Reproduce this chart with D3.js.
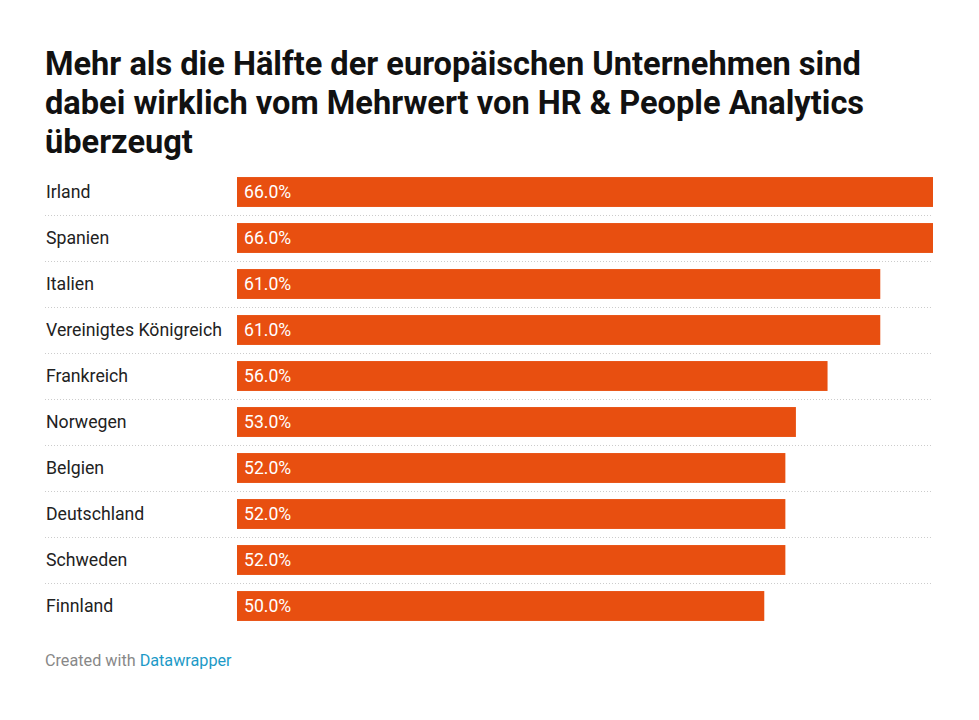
<!DOCTYPE html>
<html><head><meta charset="utf-8">
<script src="https://cdn.jsdelivr.net/npm/d3@7"></script>
<style>body{margin:0;background:#fff;font-family:Roboto,sans-serif}</style>
</head><body><svg id="c" width="979" height="720"></svg>
<script>
const countries = ["Irland","Spanien","Italien","Vereinigtes Königreich","Frankreich","Norwegen","Belgien","Deutschland","Schweden","Finnland"];
const values = [66,66,61,61,56,53,52,52,52,50];
const titleLines = ["Mehr als die Hälfte der europäischen Unternehmen sind","dabei wirklich vom Mehrwert von HR & People Analytics","überzeugt"];

const svg = d3.select("#c");
svg.append("rect").attr("width",979).attr("height",720).attr("fill","#fff");
svg.append("g").selectAll("text").data(titleLines).join("text")
  .attr("x",45).attr("y",(d,i)=>75+i*39)
  .attr("font-size",32.6).attr("font-weight",700).attr("fill","#111")
  .attr("font-family","Roboto").text(d=>d);

const x = d3.scaleLinear().domain([0,66]).range([237,933]);
const y = d3.scaleBand().domain(countries).range([169,629]).paddingInner(0.35).paddingOuter(0.175);
const g = svg.append("g");
g.selectAll("line.sep").data(countries.slice(0,-1)).join("line")
  .attr("x1",45).attr("x2",933)
  .attr("y1",d=>y(d)+y.bandwidth()+y.step()*y.paddingInner()/2+0.5)
  .attr("y2",d=>y(d)+y.bandwidth()+y.step()*y.paddingInner()/2+0.5)
  .attr("stroke","#ccc").attr("stroke-width",1).attr("stroke-dasharray","1,2");
g.selectAll("rect.bar").data(countries).join("rect")
  .attr("x",x(0)).attr("y",d=>y(d)).attr("height",y.bandwidth())
  .attr("width",(d,i)=>x(values[i])-x(0)).attr("fill","#e84f10");
g.selectAll("text.lab").data(countries).join("text")
  .attr("x",46).attr("y",d=>y(d)+y.bandwidth()/2).attr("dy","0.35em")
  .attr("font-size",17.7).attr("fill","#222").text(d=>d);
g.selectAll("text.val").data(countries).join("text")
  .attr("x",x(0)+7).attr("y",d=>y(d)+y.bandwidth()/2).attr("dy","0.35em")
  .attr("font-size",17.6).attr("fill","#fff").text((d,i)=>values[i].toFixed(1)+"%");
const f = svg.append("text").attr("x",45).attr("y",666).attr("font-size",16.2);
f.append("tspan").attr("fill","#888").text("Created with ");
f.append("tspan").attr("fill","#1d9ac7").text("Datawrapper");
</script></body></html>
